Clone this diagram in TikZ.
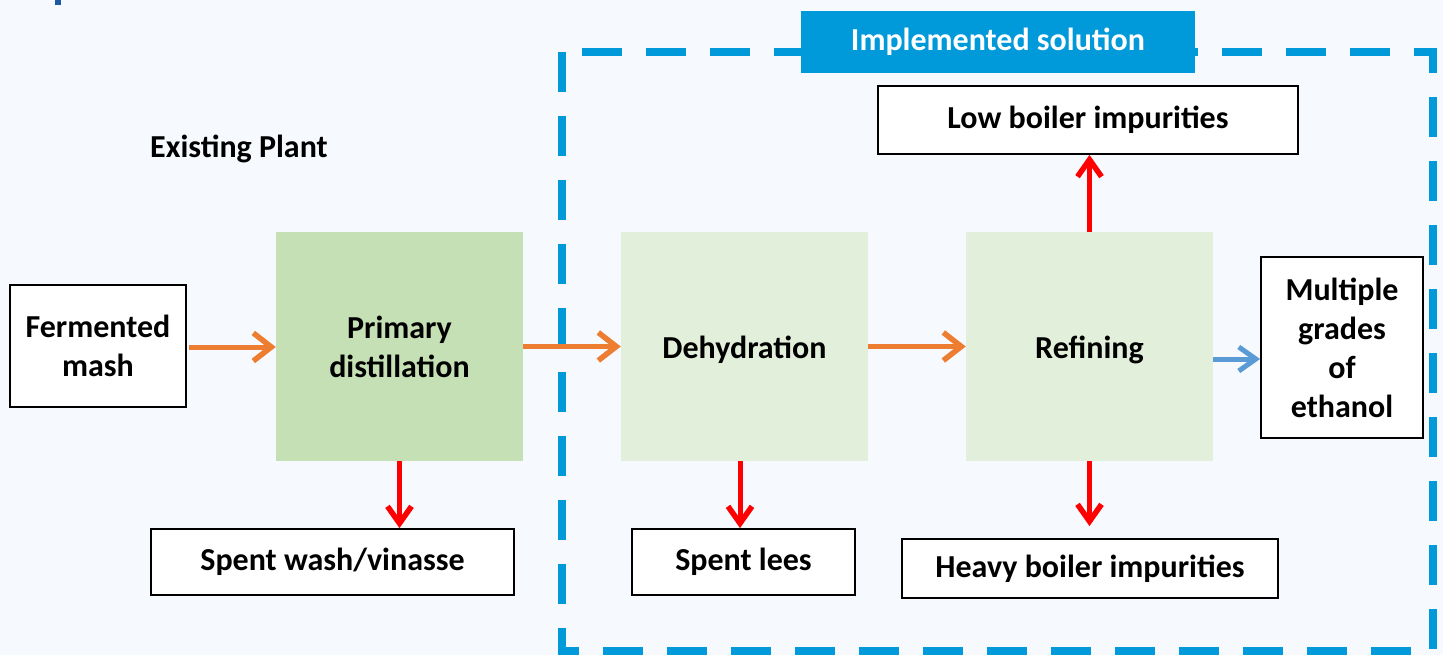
\documentclass[tikz,border=0pt]{standalone}
\usepackage{fontspec}
\setmainfont{Carlito}
\usetikzlibrary{arrows.meta,calc}
\definecolor{bgc}{RGB}{246,250,254}
\definecolor{dashblue}{RGB}{0,153,218}
\definecolor{darkgreen}{RGB}{197,224,180}
\definecolor{lightgreen}{RGB}{226,239,218}
\definecolor{orangec}{RGB}{237,125,49}
\definecolor{bluearr}{RGB}{91,155,213}
\definecolor{redc}{RGB}{255,0,0}
\definecolor{markblue}{RGB}{30,90,160}
\tikzset{
  x=1pt,y=-1pt,
  every node/.style={font=\fontsize{32}{39}\selectfont\bfseries, align=center, inner sep=0pt},
  whitebox/.style={draw=black, line width=1.8pt, fill=white},
  orarrow/.style={draw=orangec, line width=5pt, -{Straight Barb[length=18pt,width=28pt,line width=5.5pt]}},
  redarrow/.style={draw=redc, line width=5pt, -{Straight Barb[length=17pt,width=24pt,line width=5.5pt]}},
  bluearrow/.style={draw=bluearr, line width=5pt, -{Straight Barb[length=17pt,width=24pt,line width=5pt]}},
}
\begin{document}
\begin{tikzpicture}
\fill[bgc] (0,0) rectangle (1443,655);
\useasboundingbox (0,0) rectangle (1443,655);
\fill[markblue] (55,0) rectangle (61,5);
% dashed frame
\draw[dashblue, line width=8pt, dash pattern=on 40pt off 24pt] (562,52) rectangle (1433,651);
\node[fill=dashblue, text=white, minimum width=394pt, minimum height=62pt] (title) at (998,42) {Implemented solution};
% existing plant label
\node[anchor=west] (existing) at (150,149) {Existing Plant};
% boxes
\node[whitebox, minimum width=176pt, minimum height=122pt] (mash) at (98,346) {Fermented\\mash};
\node[fill=darkgreen, minimum width=247pt, minimum height=229pt] (primary) at (399.5,346.5) {Primary\\distillation};
\node[fill=lightgreen, minimum width=247pt, minimum height=229pt] (dehyd) at (744.5,346.5) {};
\node[fill=lightgreen, minimum width=247pt, minimum height=229pt] (refin) at (1089.5,346.5) {};
\node (dehydtxt) at (744.5,350) {Dehydration};
\node (refintxt) at (1089.5,350) {Refining};
\node[whitebox, minimum width=162pt, minimum height=181pt] (grades) at (1342,347.5) {Multiple\\grades\\of\\ethanol};
\node[whitebox, minimum width=420pt, minimum height=68pt] (low) at (1088,120) {Low boiler impurities};
\node[whitebox, minimum width=363pt, minimum height=66pt] (wash) at (332.5,562) {Spent wash/vinasse};
\node[whitebox, minimum width=223pt, minimum height=66pt] (lees) at (743.5,562) {Spent lees};
\node[whitebox, minimum width=376pt, minimum height=59pt] (heavy) at (1090,568.5) {Heavy boiler impurities};
% arrows
\draw[orarrow] (mash.east) ++(2,1) coordinate (m1) -- (primary.west |- m1);
\draw[orarrow] (primary.east) -- (dehyd.west);
\draw[orarrow] (dehyd.east) -- (refin.west);
\draw[bluearrow] (refin.east |- 0,359) coordinate (r1) -- (grades.west |- r1);
\draw[redarrow] (primary.south) -- (wash.north -| primary.south);
\draw[redarrow] (dehyd.south -| 740,0) coordinate (d1) -- (lees.north -| d1);
\draw[redarrow] (refin.north) -- (low.south -| refin.north);
\coordinate (h1) at ($(heavy.north)+(0,-12)$);
\draw[redarrow] (refin.south) -- (h1 -| refin.south);
\end{tikzpicture}
\end{document}
